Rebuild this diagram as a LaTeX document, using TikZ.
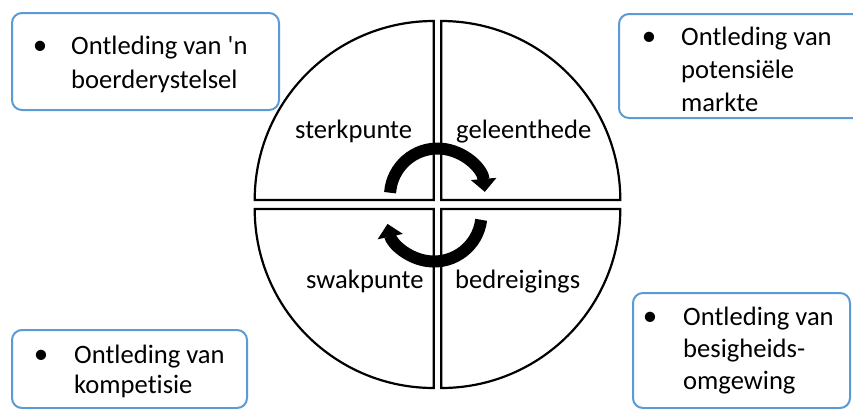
\documentclass[tikz,border=0pt]{standalone}
\usepackage{fontspec}
\newfontfamily\carl{Carlito}[Ligatures=NoCommon]
\usetikzlibrary{arrows.meta}
\definecolor{boxblue}{HTML}{5B9BD5}
\begin{document}
\begin{tikzpicture}[x=1pt,y=1pt,
  box/.style={draw=boxblue, line width=2pt, rounded corners=10pt, fill=white, inner sep=0pt, anchor=north west},
  txt/.style={font=\carl\fontsize{26.6}{32}\selectfont, inner sep=0pt, anchor=base west},
  bul/.style={font=\carl\fontsize{29}{32}\selectfont, inner sep=0pt, anchor=base},
  quad/.style={draw=black, line width=2.2pt, fill=white},
  cyc/.style={line width=12pt, -{Triangle[width=25pt,length=13pt]}}]
\clip (0,0) rectangle (853,-408);
\fill[white] (0,0) rectangle (853,-408);
% boxes
\node[box, minimum width=267pt, minimum height=97pt] (box1) at (11,-12) {};
\node[box, minimum width=262pt, minimum height=104pt] (box2) at (618,-13) {};
\node[box, minimum width=235pt, minimum height=78pt] (box3) at (11,-329) {};
\node[box, minimum width=217pt, minimum height=115pt] (box4) at (632,-292) {};
% box texts
\node[bul] (d1) at (40,-54) {•};
\node[txt] (t1a) at (71,-54) {Ontleding van 'n};
\node[txt] (t1b) at (71,-88) {boerderystelsel};
\node[bul] (d2) at (649,-45) {•};
\node[txt] (t2a) at (681,-45) {Ontleding van};
\node[txt] (t2b) at (681,-78.5) {potensiële};
\node[txt] (t2c) at (681,-111.5) {markte};
\node[bul] (d3) at (41,-363) {•};
\node[txt] (t3a) at (74,-363) {Ontleding van};
\node[txt] (t3b) at (74,-393) {kompet\kern0pt isie};
\node[bul] (d4) at (650,-325) {•};
\node[txt] (t4a) at (683,-325) {Ontleding van};
\node[txt] (t4b) at (683,-357) {besigheids-};
\node[txt] (t4c) at (683,-389.5) {omgewing};
% quadrants
\draw[quad] (433.7,-200) -- (254.7,-200) arc[start angle=180, end angle=90, radius=179] -- cycle;
\draw[quad] (441.3,-200) -- (441.3,-21) arc[start angle=90, end angle=0, radius=179] -- cycle;
\draw[quad] (433.7,-209) -- (254.7,-209) arc[start angle=180, end angle=270, radius=179] -- cycle;
\draw[quad] (441.3,-209) -- (620.3,-209) arc[start angle=0, end angle=-90, radius=179] -- cycle;
% labels
\node[txt] (s) at (295,-138) {sterkpunte};
\node[txt] (g) at (456,-138) {geleenthede};
\node[txt] (w) at (306,-288) {swakpunte};
\node[txt] (b) at (455,-288) {bedreigings};
% cycle arrows
\draw[cyc] (390.1,-192.7) arc[start angle=176, end angle=5, radius=47.5];
\draw[cyc] (481.15,-219.8) arc[start angle=-7, end angle=-168, radius=47.5];
\end{tikzpicture}
\end{document}
